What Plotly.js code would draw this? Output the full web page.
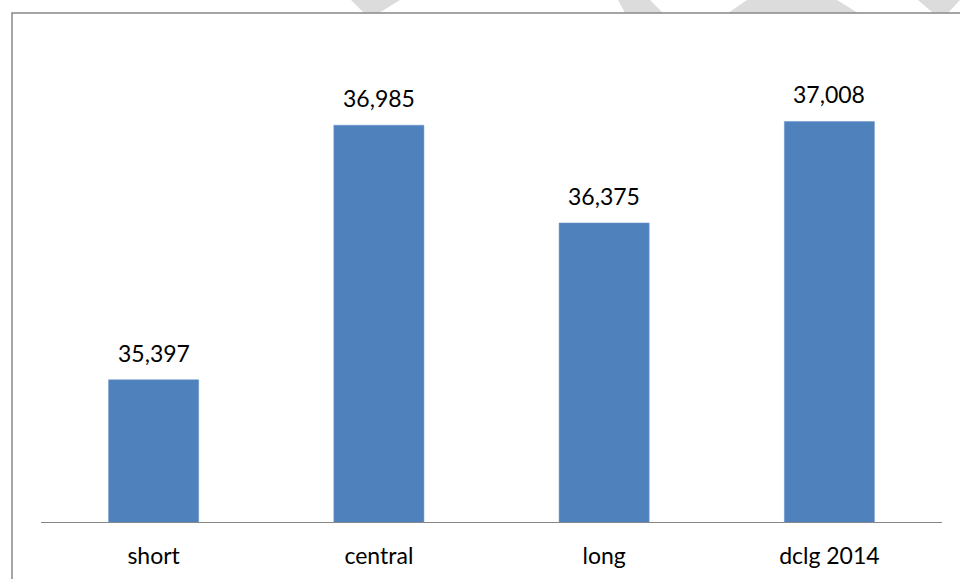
<!DOCTYPE html>
<html>
<head>
<meta charset="utf-8">
<script src="https://cdn.plot.ly/plotly-3.0.1.min.js"></script>
<style>html,body{margin:0;padding:0;background:#fff;}#chart{width:960px;height:579px;}</style>
</head>
<body>
<div id="chart"></div>
<script>
const categories = ["short", "central", "long", "dclg 2014"];
const values = [35397, 36985, 36375, 37008];
const valueLabels = ["35,397", "36,985", "36,375", "37,008"];

const W = 960, H = 579;
const M = {l: 41, r: 18, t: 41, b: 57};
const pw = W - M.l - M.r, ph = H - M.t - M.b;
const px = x => (x - M.l) / pw;
const py = y => (H - M.b - y) / ph;

function poly(pts, color) {
  let d = pts.map((p, i) => (i ? "L" : "M") + px(p[0]).toFixed(5) + "," + py(p[1]).toFixed(5)).join(" ") + " Z";
  return {type: "path", xref: "paper", yref: "paper", path: d, fillcolor: color, line: {width: 0}, layer: "below"};
}
const wm = "#dcdcdc";
const shapes = [
  poly([[351,0],[400,0],[379,13],[364,13]], wm),
  poly([[618,0],[650,0],[663,13],[625,13]], wm),
  poly([[747,0],[837,0],[858,13],[728,13]], wm),
  poly([[918,0],[960,0],[948,13],[933,13]], wm),
  {type: "rect", xref: "paper", yref: "paper", x0: px(12), x1: px(975), y0: py(600), y1: py(13),
   line: {color: "#888888", width: 1.5}, fillcolor: "rgba(0,0,0,0)", layer: "below"}
];

const annotations = categories.map((c, i) => ({
  x: c, y: values[i], xref: "x", yref: "y", text: valueLabels[i], showarrow: false,
  yanchor: "bottom", yshift: 11, font: {family: "Lato, sans-serif", size: 23, color: "#000"}
}));

const trace = {
  type: "bar", x: categories, y: values,
  marker: {color: "#4F81BD", line: {color: "#6b96cb", width: 0.5}},
  hoverinfo: "none"
};

const layout = {
  width: W, height: H,
  margin: M,
  paper_bgcolor: "#fff", plot_bgcolor: "rgba(0,0,0,0)",
  bargap: 0.6,
  showlegend: false,
  xaxis: {type: "category", showline: true, linecolor: "#868686", linewidth: 1.2,
          ticks: "", showgrid: false, zeroline: false, ticklabelstandoff: 13,
          tickfont: {family: "Lato, sans-serif", size: 23, color: "#000"}},
  yaxis: {range: [34510, 37510], visible: false, showgrid: false, zeroline: false},
  shapes: shapes,
  annotations: annotations
};

Plotly.newPlot("chart", [trace], layout, {staticPlot: true, displayModeBar: false});
</script>
</body>
</html>
